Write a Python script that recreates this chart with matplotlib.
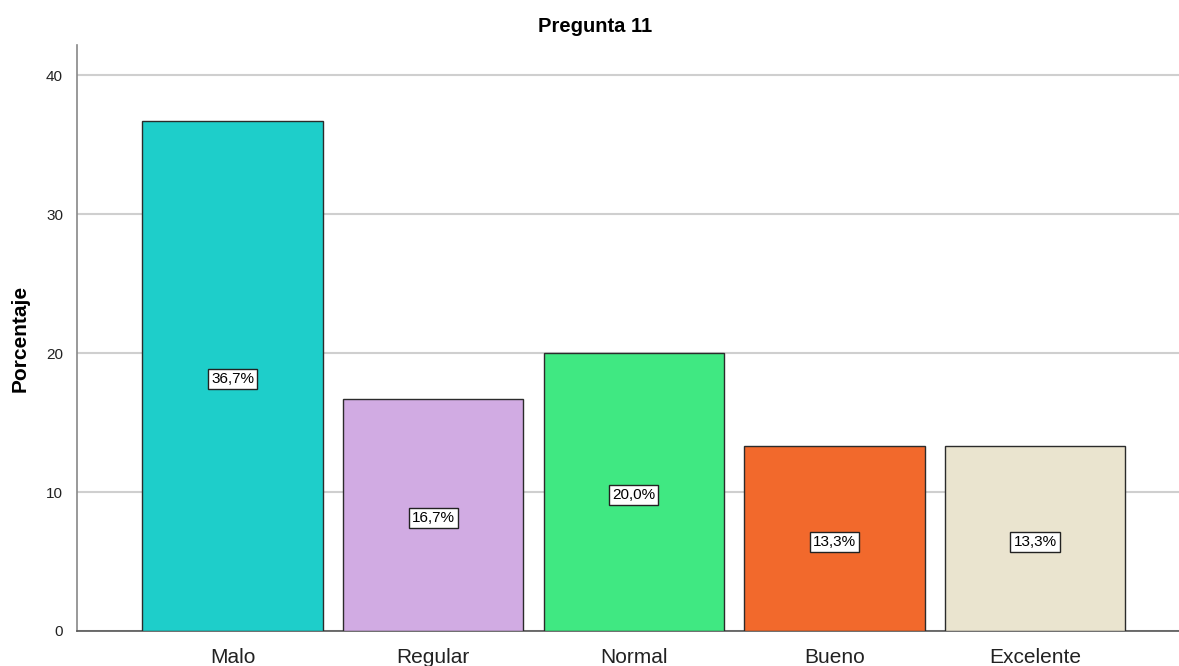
import matplotlib
matplotlib.use("Agg")
import matplotlib.pyplot as plt
from matplotlib.transforms import offset_copy

categories = ["Malo", "Regular", "Normal", "Bueno", "Excelente"]
values = [36.7, 16.7, 20.0, 13.3, 13.3]
labels = ["36,7%", "16,7%", "20,0%", "13,3%", "13,3%"]
colors = ["#1ECECA", "#D1ABE3", "#40E882", "#F2692C", "#EAE4CF"]
yticks = [0, 10, 20, 30, 40]

plt.rcParams['font.family'] = ['Arial', 'Liberation Sans', 'DejaVu Sans']

fig = plt.figure(figsize=(11.79, 6.66), dpi=100)
ax = fig.add_axes([77/1179, 35/666, 1 - 77/1179, (631-45)/666])

x = range(len(categories))
ax.bar(x, values, width=0.9, color=colors, edgecolor="#2b2b2b", linewidth=1.0, zorder=3)
tr = offset_copy(ax.transData, fig=fig, x=0, y=-3, units="dots")
for xi, v, lab in zip(x, values, labels):
    ax.text(xi, v/2, lab, ha="center", va="center", fontsize=11, zorder=4, transform=tr,
            bbox=dict(boxstyle="square,pad=0.2", facecolor="white", edgecolor="#222222", linewidth=1.0))

ax.set_xlim(-0.776, 4.718)
ax.set_ylim(0, 42.16)
ax.set_yticks(yticks)
ax.set_xticks(list(x))
ax.set_xticklabels(categories, fontsize=15, color="#222222")
ax.tick_params(axis="x", length=0, pad=12)
ax.tick_params(axis="y", length=0, pad=10, labelsize=11, labelcolor="#222222")
ax.yaxis.grid(True, color="#cfcfcf", linewidth=1.5, zorder=0)
ax.set_axisbelow(True)
for s in ["top", "right"]:
    ax.spines[s].set_visible(False)
ax.spines["left"].set_color("#888888")
ax.spines["left"].set_linewidth(1.2)
ax.spines["bottom"].set_color("#555555")
ax.spines["bottom"].set_linewidth(1.2)

ax.set_ylabel("Porcentaje", fontsize=15, fontweight="bold", labelpad=12)
fig.text(595/1179, 1 - 27/666, "Pregunta 11", ha="center", va="center", fontsize=14.5, fontweight="bold")

fig.savefig("out.png", dpi=100)
